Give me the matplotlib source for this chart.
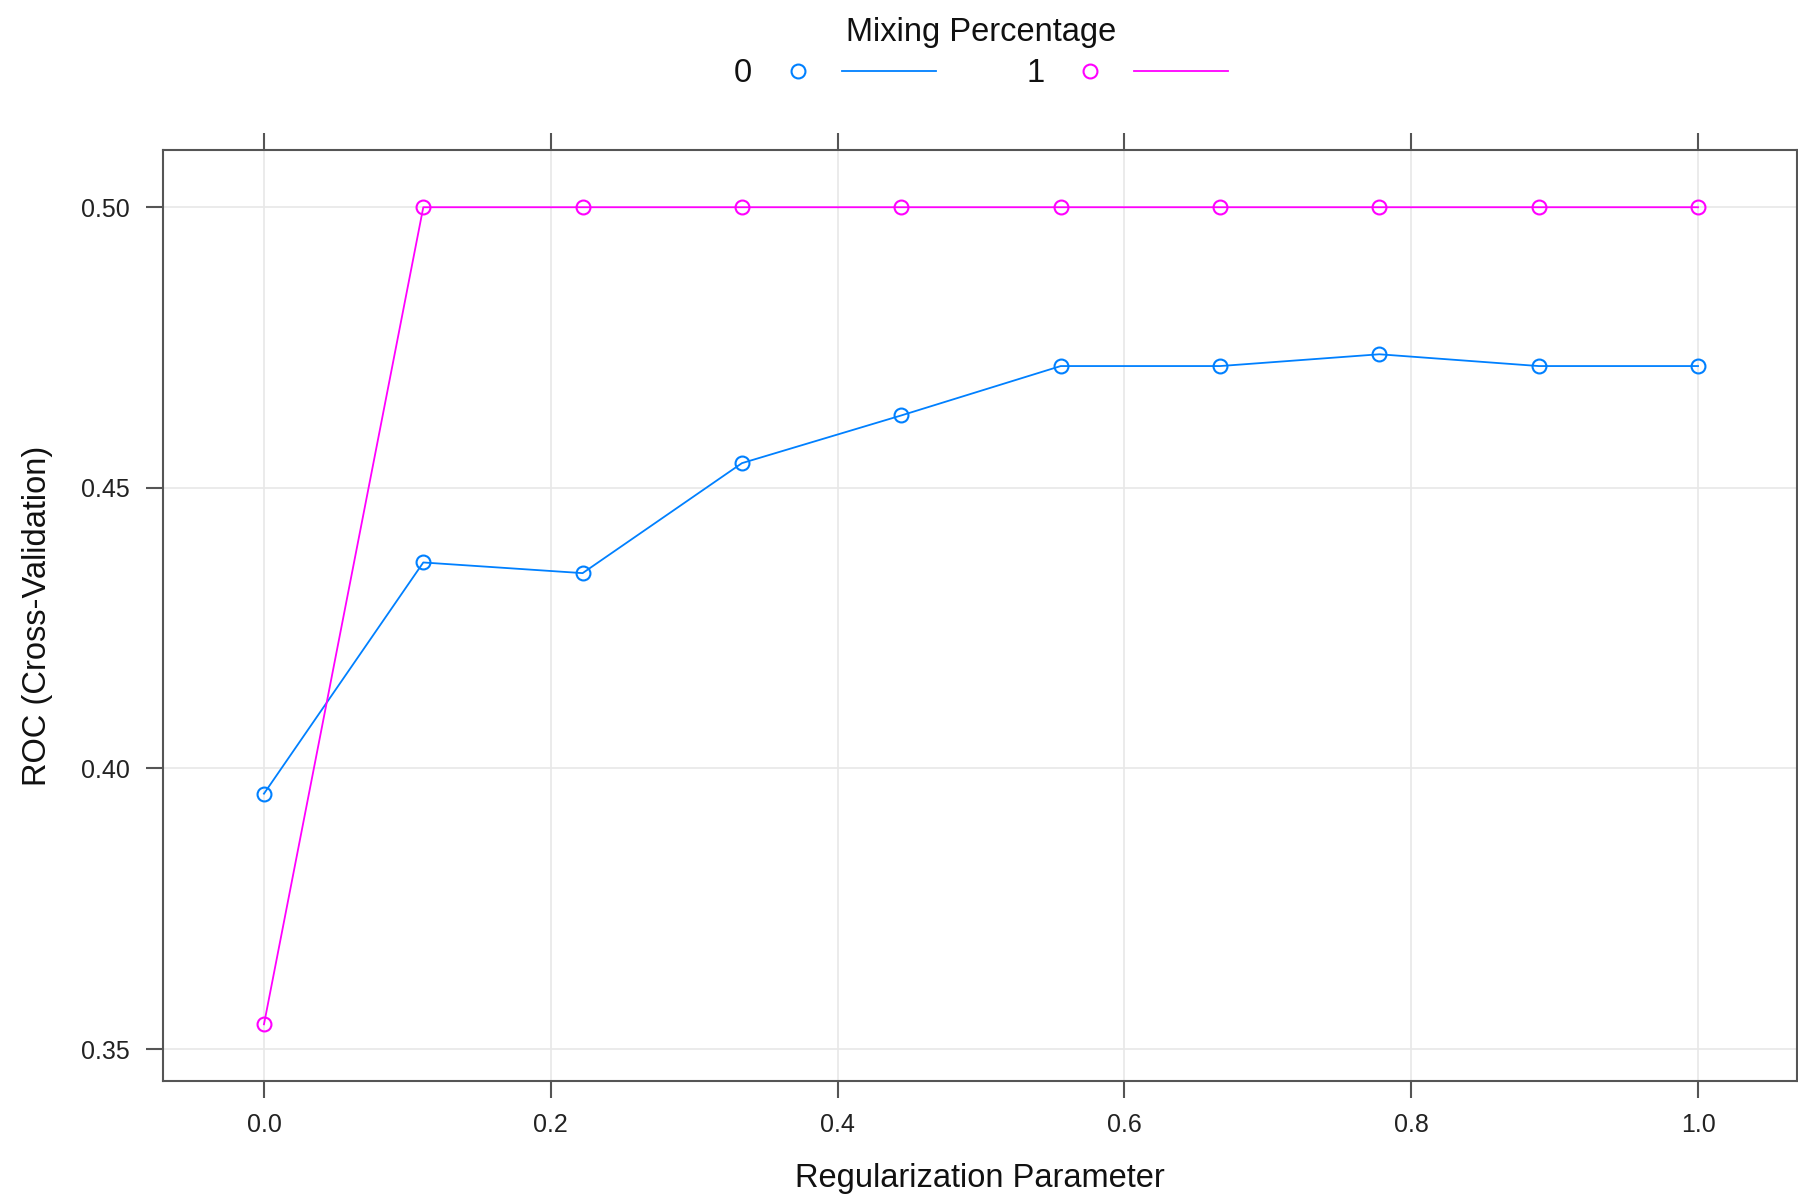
import matplotlib
matplotlib.use('Agg')
import matplotlib.pyplot as plt
from matplotlib.lines import Line2D
import numpy as np

plt.rcParams['font.family'] = ['Liberation Sans', 'DejaVu Sans']

# データ
reg_param = [0.0, 0.1111, 0.2222, 0.3333, 0.4444, 0.5556, 0.6667, 0.7778, 0.8889, 1.0]
roc_mix0 = [0.3955, 0.4367, 0.4348, 0.4544, 0.4629, 0.4717, 0.4717, 0.4738, 0.4717, 0.4717]
roc_mix1 = [0.3544, 0.50, 0.50, 0.50, 0.50, 0.50, 0.50, 0.50, 0.50, 0.50]
mix_labels = ['0', '1']
colors = ['#0080ff', '#ff00ff']

x_ticks = [0.0, 0.2, 0.4, 0.6, 0.8, 1.0]
y_ticks = [0.35, 0.40, 0.45, 0.50]

fig = plt.figure(figsize=(17.98, 11.95), dpi=100)
ax = fig.add_axes([163 / 1798, 1 - 1081 / 1195, (1797 - 163) / 1798, (1081 - 150) / 1195])

# グリッド
for xt in x_ticks:
    ax.axvline(xt, color='#e8e8e8', lw=1.2, zorder=0)
for yt in y_ticks:
    ax.axhline(yt, color='#e8e8e8', lw=1.2, zorder=0)

for roc, c in zip([roc_mix0, roc_mix1], colors):
    ax.plot(reg_param, roc, color=c, lw=1.3, marker='o', ms=10,
            mfc='none', mec=c, mew=1.5, zorder=3)

ax.set_xlim(-0.0704, 1.069)
ax.set_ylim(0.3443, 0.5102)
ax.set_xticks(x_ticks)
ax.set_xticklabels(['0.0', '0.2', '0.4', '0.6', '0.8', '1.0'])
ax.set_yticks(y_ticks)
ax.set_yticklabels(['0.35', '0.40', '0.45', '0.50'])

for s in ax.spines.values():
    s.set_color('#555555')
    s.set_linewidth(1.5)

ax.tick_params(axis='x', which='both', top=True, bottom=True, direction='out',
               length=12, width=1.5, color='#555555', labelsize=18, pad=11,
               labelcolor='#222222')
ax.tick_params(axis='y', which='both', left=True, right=False, direction='out',
               length=12, width=1.5, color='#555555', labelsize=18, pad=12,
               labelcolor='#222222')

fig.text(980 / 1798, 1 - 1179 / 1195, 'Regularization Parameter', ha='center',
         va='center', fontsize=23.5, color='#111111')
fig.text(38 / 1798, 1 - 616 / 1195, 'ROC (Cross-Validation)', ha='center',
         va='center', rotation=90, fontsize=23.5, color='#111111')

# 凡例
fig.text(981 / 1798, 1 - 33 / 1195, 'Mixing Percentage', ha='center', va='center',
         fontsize=23.5, color='#111111')
leg_x = [(743, 798, 842, 936), (1036, 1090, 1134, 1228)]
row_y = 1 - 71 / 1195
for lab, c, (tx, mx, l0, l1) in zip(mix_labels, colors, leg_x):
    fig.text(tx / 1798, row_y - 0.002, lab, ha='center', va='center', fontsize=23.5,
             color='#111111')
    fig.add_artist(Line2D([mx / 1798], [row_y], marker='o', ms=10, mfc='none',
                          mec=c, mew=1.5, transform=fig.transFigure))
    fig.add_artist(Line2D([l0 / 1798, l1 / 1798], [row_y, row_y], color=c, lw=1.3,
                          transform=fig.transFigure))

fig.savefig('out.png', dpi=100)
